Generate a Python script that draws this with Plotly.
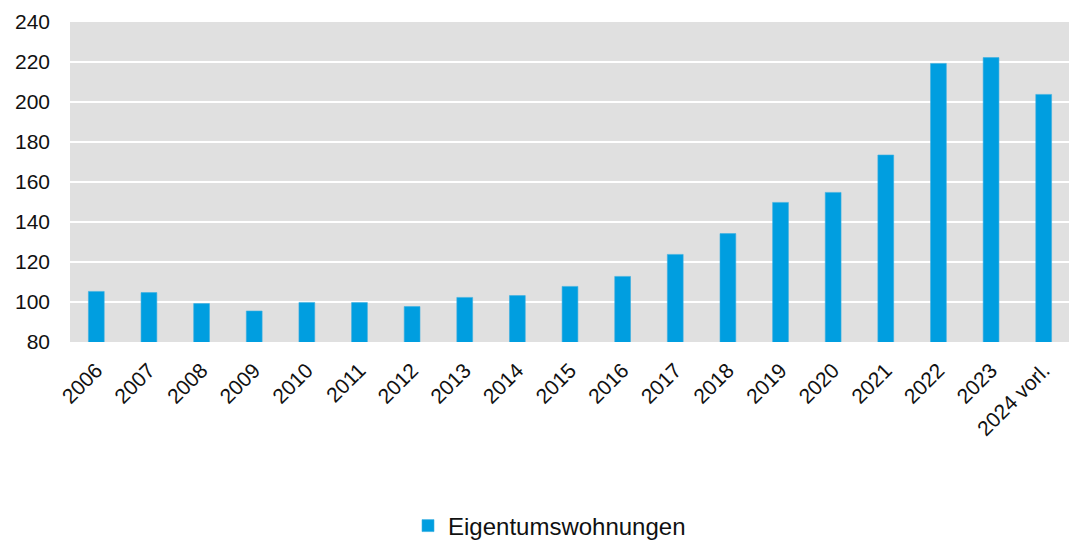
import plotly.graph_objects as go

years = ["2006", "2007", "2008", "2009", "2010", "2011", "2012", "2013", "2014", "2015",
         "2016", "2017", "2018", "2019", "2020", "2021", "2022", "2023", "2024 vorl."]
eigentumswohnungen = [105.3, 104.7, 99.2, 95.5, 99.8, 99.7, 97.7, 102.3, 103.2, 107.8,
                      112.8, 123.8, 134.2, 149.8, 154.8, 173.5, 219.3, 222.2, 203.8]

fig = go.Figure(
    data=[
        go.Bar(
            x=years,
            y=eigentumswohnungen,
            name="Eigentumswohnungen",
            marker=dict(color="#009EE0", line=dict(color="#3aaee0", width=0.6)),
        )
    ]
)

# page body keeps its default 8px margin, so the figure is 8px smaller
fig.update_layout(
    width=1069,
    height=535,
    margin=dict(l=62, r=7, t=14, b=201, autoexpand=False),
    paper_bgcolor="white",
    plot_bgcolor="#E0E0E0",
    font=dict(family="Liberation Sans, Arial, sans-serif", color="#111111", size=21),
    bargap=0.7,
    showlegend=True,
    legend=dict(
        orientation="h",
        x=0.338,
        xanchor="left",
        y=-0.575,
        yanchor="middle",
        font=dict(size=24),
        itemwidth=30,
    ),
    xaxis=dict(
        tickangle=-45,
        tickfont=dict(size=21),
        showgrid=False,
        ticks="",
        automargin=False,
        ticklabelstandoff=11,
    ),
    yaxis=dict(
        range=[80, 240],
        dtick=20,
        tick0=80,
        gridcolor="white",
        gridwidth=2,
        zeroline=False,
        tickfont=dict(size=21),
        ticklabelstandoff=19,
        automargin=False,
    ),
)

fig.write_html("out.html")
